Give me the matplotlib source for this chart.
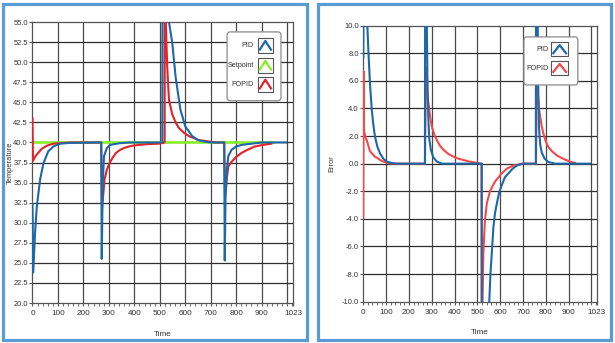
import numpy as np
import matplotlib
matplotlib.use("Agg")
import matplotlib.pyplot as plt
from matplotlib import font_manager
from matplotlib.patches import Rectangle, FancyBboxPatch
from matplotlib.ticker import MultipleLocator

# police étroite si elle existe, sinon Liberation Sans un peu plus petite
polices = set(f.name for f in font_manager.fontManager.ttflist)
if 'Liberation Sans Narrow' in polices:
    police, taille = 'Liberation Sans Narrow', 6.2
elif 'DejaVu Sans Condensed' in polices:
    police, taille = 'DejaVu Sans Condensed', 5.2
else:
    police, taille = 'Liberation Sans', 5.4
plt.rcParams['font.family'] = [police, 'DejaVu Sans']

## Données : température (gauche)
temp_pid_t = [0, 3, 10, 17, 30, 43, 62, 82, 108, 147, 270, 272, 276, 281, 292, 305, 341, 380,
              510, 511, 525, 536, 549, 562, 572, 581, 600, 627, 650, 679, 700,
              753, 755, 758, 763, 769, 782, 800, 821, 873, 900, 995]
temp_pid = [32.3, 23.8, 28.7, 32.0, 35.4, 37.4, 38.9, 39.5, 39.85, 39.95, 40.0, 25.5, 35.0, 38.3, 39.3, 39.7, 39.9, 40.0,
            40.0, 70.0, 60.0, 55.0, 52.4, 48.2, 46.0, 44.1, 42.0, 40.8, 40.3, 40.1, 40.0,
            40.0, 25.3, 33.0, 36.5, 38.3, 39.1, 39.5, 39.7, 39.9, 40.0, 40.0]

temp_fopid_t = [0, 2, 8, 17, 36, 56, 82, 147, 270, 273, 278, 283, 292, 302, 315, 328, 345, 367, 392, 419, 455, 497,
                519, 520, 523, 529, 536, 549, 562, 575, 595, 614, 653, 718,
                753, 756, 760, 763, 769, 782, 800, 821, 845, 873, 905, 938]
temp_fopid = [43.0, 37.7, 38.1, 38.5, 39.2, 39.6, 39.85, 40.0, 40.0, 31.8, 33.5, 35.4, 36.6, 37.4, 38.1, 38.7, 39.1, 39.4, 39.6, 39.7, 39.8, 39.85,
              40.0, 70.0, 55.5, 49.5, 45.3, 43.5, 42.5, 41.8, 41.2, 40.8, 40.3, 40.0,
              40.0, 33.5, 34.3, 35.5, 37.0, 37.6, 38.2, 38.7, 39.1, 39.5, 39.7, 39.85]

consigne_t = [0, 950]
consigne = [40.0, 40.0]

## Données : erreur (droite)
err_pid_t = [0, 1, 17, 22, 29, 37, 44, 51, 62, 73, 88, 102, 132, 150,
             270, 271, 278, 281, 285, 289, 296, 307, 322, 344,
             519, 520, 540, 552, 557, 563, 570, 577, 585, 595, 607, 620, 636, 655, 675, 700,
             756, 757, 764, 767, 770, 775, 782, 795, 811, 841, 994]
err_pid = [7.7, 16.0, 10.2, 8.2, 5.8, 3.9, 2.8, 1.96, 1.2, 0.75, 0.35, 0.15, 0.02, 0.0,
           0.0, 16.0, 10.5, 6.0, 3.2, 1.8, 1.0, 0.45, 0.15, 0.0,
           0.0, -25.0, -16.0, -10.0, -8.0, -6.5, -4.6, -3.6, -2.9, -2.1, -1.55, -1.0, -0.7, -0.35, -0.12, 0.0,
           0.0, 16.0, 11.0, 5.0, 2.6, 1.4, 0.8, 0.35, 0.12, 0.0, 0.0]

err_fopid_t = [0, 1, 3, 10, 15, 22, 29, 40, 51, 62, 73, 88, 102, 117, 140,
               270, 275, 280, 285, 292, 300, 311, 322, 336, 351, 373, 395, 417, 439, 460, 482, 500,
               518, 519, 522, 526, 533, 541, 555, 577, 607, 630, 660, 700,
               757, 760, 765, 770, 775, 782, 789, 800, 811, 830, 848, 870, 892, 910, 928]
err_fopid = [-3.9, 6.7, 2.4, 1.85, 1.7, 1.3, 0.9, 0.7, 0.5, 0.4, 0.27, 0.15, 0.07, 0.02, 0.0,
             0.0, 7.0, 5.0, 4.4, 3.5, 2.7, 2.1, 1.7, 1.3, 1.0, 0.7, 0.5, 0.36, 0.26, 0.17, 0.1, 0.05,
             0.0, -25.0, -10.5, -6.5, -4.1, -2.9, -2.0, -1.3, -0.7, -0.35, -0.12, 0.0,
             0.0, 6.5, 5.0, 4.0, 3.4, 2.7, 2.2, 1.6, 1.2, 0.85, 0.6, 0.4, 0.24, 0.12, 0.05]

xticks = [0, 100, 200, 300, 400, 500, 600, 700, 800, 900, 1023]
xgrille = [100, 200, 300, 400, 500, 600, 700, 800, 900, 1000]

bleu = '#1d68a8'
rouge = '#e3222a'
rouge_clair = '#f24a4a'
vert = '#84f21f'
grille = '#4a4a4a'
cadre = '#5b9bd5'


def prepare_axe(ax, ymin, ymax, pas, ylabel, ylab_x, xlab_y):
    ax.set_xlim(0, 1023)
    ax.set_ylim(ymin, ymax)
    for x in xgrille:
        ax.axvline(x, color=grille, lw=0.9, zorder=0)
    yt = np.arange(ymin, ymax + pas / 2, pas)
    for y in yt[1:-1]:
        ax.axhline(y, color='#2e2e2e', lw=0.9, zorder=0)
    ax.set_xticks(xticks)
    ax.set_xticklabels([str(v) for v in xticks])
    ax.xaxis.set_minor_locator(MultipleLocator(20))
    ax.set_yticks(yt)
    ax.set_yticklabels(['%.1f' % v for v in yt])
    ax.tick_params(axis='both', which='major', labelsize=taille, colors='#555555',
                   labelcolor='#333333', length=2.5, width=0.8, pad=0.8)
    ax.tick_params(axis='x', which='major', pad=2.5, labelsize=taille + 0.5)
    ax.tick_params(axis='x', which='minor', length=1.8, width=0.6, colors='#555555')
    for s in ax.spines.values():
        s.set_color('#555555')
        s.set_linewidth(0.9)
    ax.set_ylabel(ylabel, fontsize=taille, color='#333333')
    ax.yaxis.set_label_coords(ylab_x, 0.5)
    ax.set_xlabel('Time', fontsize=taille + 0.5, color='#333333')
    ax.xaxis.set_label_coords(0.5, xlab_y)


def legende(ax, noms, couleurs, boite, icone_x, rangs, texte_x, icone_w, icone_h):
    x0, y0, x1, y1 = boite
    ax.add_patch(FancyBboxPatch((x0, y0), x1 - x0, y1 - y0,
                                boxstyle='round,pad=0,rounding_size=0.012',
                                transform=ax.transAxes, facecolor='white',
                                edgecolor='#8a8a8a', lw=0.9, clip_on=False, zorder=5))
    for nom, coul, yr in zip(noms, couleurs, rangs):
        ax.text(texte_x, yr, nom, transform=ax.transAxes, fontsize=taille - 0.2, ha='right',
                va='center', color='#333333', zorder=6)
        ax.add_patch(Rectangle((icone_x, yr - icone_h / 2), icone_w, icone_h,
                               transform=ax.transAxes, facecolor='white',
                               edgecolor='#555555', lw=0.8, clip_on=False, zorder=6))
        ax.plot([icone_x + 0.12 * icone_w, icone_x + 0.5 * icone_w, icone_x + 0.88 * icone_w],
                [yr - 0.28 * icone_h, yr + 0.3 * icone_h, yr - 0.28 * icone_h],
                transform=ax.transAxes, color=coul, lw=1.6, clip_on=False, zorder=7)


fig = plt.figure(figsize=(6.15, 3.43), dpi=100)

## Graphe de température
ax1 = fig.add_axes([0.0528, 0.1166, 0.4236, 0.819])
prepare_axe(ax1, 20.0, 55.0, 2.5, 'Temperature', -0.072, -0.1)
ax1.plot(consigne_t, consigne, color=vert, lw=1.8, zorder=2)
ax1.plot(temp_fopid_t, temp_fopid, color=rouge, lw=1.5, zorder=3)
ax1.plot(temp_pid_t, temp_pid, color=bleu, lw=1.5, zorder=4)
legende(ax1, ['PID', 'Setpoint', 'FOPID'], [bleu, vert, rouge],
        (0.747, 0.72, 0.954, 0.965), 0.866, [0.917, 0.846, 0.779], 0.85, 0.056, 0.053)

## Graphe de l'erreur
ax2 = fig.add_axes([0.5908, 0.1204, 0.3795, 0.805])
prepare_axe(ax2, -10.0, 10.0, 2.0, 'Error', -0.12, -0.1)
ax2.plot(err_fopid_t, err_fopid, color=rouge_clair, lw=1.5, zorder=3)
ax2.plot(err_pid_t, err_pid, color=bleu, lw=1.5, zorder=4)
legende(ax2, ['PID', 'FOPID'], [bleu, rouge_clair],
        (0.688, 0.785, 0.919, 0.959), 0.805, [0.914, 0.846], 0.795, 0.072, 0.05)

# cadres bleus autour des deux graphes
for (xa, ya, xb, yb) in [(3, 3.5, 307, 339.5), (318, 3.5, 611, 339.5)]:
    fig.add_artist(Rectangle((xa / 615, 1 - yb / 343), (xb - xa) / 615, (yb - ya) / 343,
                             transform=fig.transFigure, facecolor='none',
                             edgecolor=cadre, lw=2.3))

fig.savefig('out.png', dpi=100)
